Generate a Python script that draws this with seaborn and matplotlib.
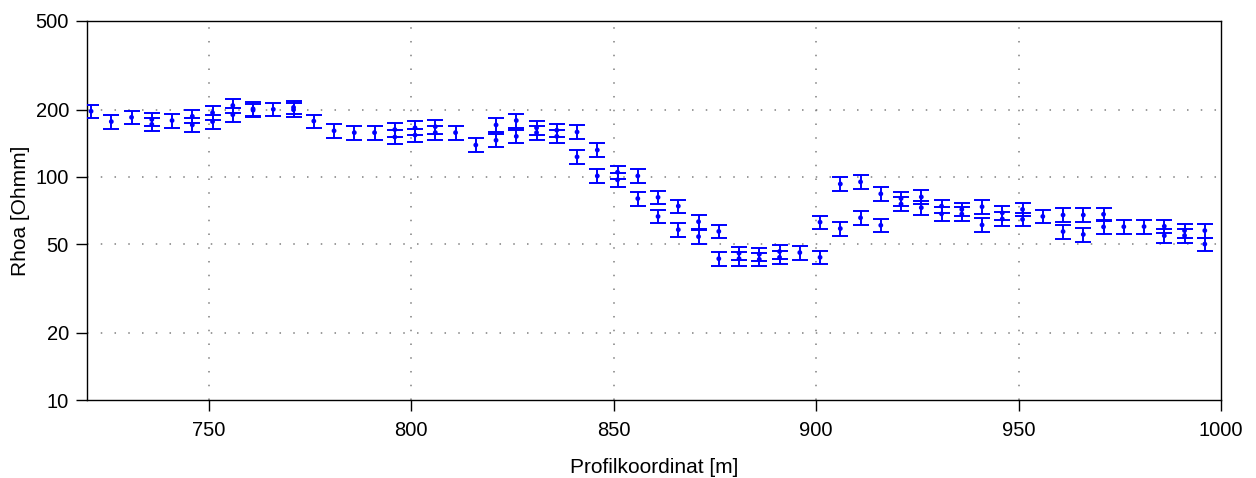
import matplotlib
matplotlib.use("Agg")
import matplotlib.pyplot as plt
import seaborn as sns
import pandas as pd
from matplotlib.ticker import FixedLocator, FixedFormatter, NullLocator

# Profilkoordinat [m] for hver maaling (noen posisjoner har to maalinger)
profil_x = [
    721, 726, 731, 736, 736, 741, 746, 746, 751, 751,
    756, 756, 761, 761, 766, 771, 771, 776, 781, 786,
    791, 796, 796, 801, 801, 806, 806, 811, 816, 821,
    821, 826, 826, 831, 831, 836, 836, 841, 841, 846,
    846, 851, 851, 856, 856, 861, 861, 866, 866, 871,
    871, 876, 876, 881, 881, 886, 886, 891, 891, 896,
    901, 901, 906, 906, 911, 911, 916, 916, 921, 921,
    926, 926, 931, 931, 936, 936, 941, 941, 946, 946,
    951, 951, 956, 961, 961, 966, 966, 971, 971, 976,
    981, 986, 986, 991, 991, 996, 996,
]

# tilsynelatende resistivitet [Ohmm]
rhoa = [
    197, 177, 185, 181, 172, 179, 187, 171, 194, 177,
    209, 190, 202, 199, 201, 205, 200, 178, 161, 158,
    158, 163, 151, 166, 154, 168, 158, 158, 139, 171,
    146, 179, 152, 166, 158, 162, 152, 159, 123, 132,
    101, 105, 97, 101, 80, 81, 66.5, 74, 58, 63,
    54, 57, 43, 45.5, 43, 45, 42.7, 46.3, 43.6, 45.8,
    62.7, 43.6, 93, 58.7, 95, 65.6, 84, 60.7, 80, 75.6,
    81.3, 72.8, 74, 68.3, 71.5, 68.2, 73.5, 60.9, 69, 64.8,
    71.5, 64.5, 66.5, 67.5, 56.9, 67.5, 55.2, 68, 59.7, 59.8,
    59.9, 60.1, 54.5, 57.5, 54.6, 57.5, 50,
]

# relativ feil ca 7 %
rel_feil = 0.07

y_ticks = [10, 20, 50, 100, 200, 500]
x_ticks = [750, 800, 850, 900, 950, 1000]

df = pd.DataFrame({"x": profil_x, "rhoa": rhoa})
df["err"] = df["rhoa"] * rel_feil

sns.set_theme(style="ticks")
plt.rcParams["font.family"] = ["Liberation Sans", "DejaVu Sans"]

fig = plt.figure(figsize=(12.56, 4.78), dpi=100)
ax = fig.add_axes([87 / 1256, 78 / 478, (1221 - 87) / 1256, (400 - 21) / 478])

ax.errorbar(df["x"], df["rhoa"], yerr=df["err"], fmt="none", ecolor="blue",
            elinewidth=1.4, capsize=5.5, capthick=1.4, zorder=3)
sns.scatterplot(data=df, x="x", y="rhoa", ax=ax, color="blue", s=12,
                edgecolor="none", zorder=4, legend=False)

ax.set_yscale("log")
ax.set_xlim(720, 1000)
ax.set_ylim(10, 500)
ax.yaxis.set_major_locator(FixedLocator(y_ticks))
ax.yaxis.set_major_formatter(FixedFormatter([str(v) for v in y_ticks]))
ax.yaxis.set_minor_locator(NullLocator())
ax.xaxis.set_major_locator(FixedLocator(x_ticks))

for v in x_ticks[:-1]:
    ax.axvline(v, color="0.5", lw=1.1, ls=(0, (1, 8)), zorder=1)
for v in y_ticks[1:-1]:
    ax.axhline(v, color="0.5", lw=1.1, ls=(0, (1, 8)), zorder=1)

for s in ax.spines.values():
    s.set_color("black")
    s.set_linewidth(1.0)

ax.tick_params(axis="both", direction="out", length=8, width=1.0,
               labelsize=14.5, colors="black", labelcolor="black")
ax.tick_params(axis="y", pad=5)
ax.tick_params(axis="x", pad=7)
ax.set_xlabel("Profilkoordinat [m]", fontsize=15, labelpad=13, color="black")
ax.set_ylabel("Rhoa [Ohmm]", fontsize=15, labelpad=4, color="black")

fig.savefig("out.png", dpi=100)
